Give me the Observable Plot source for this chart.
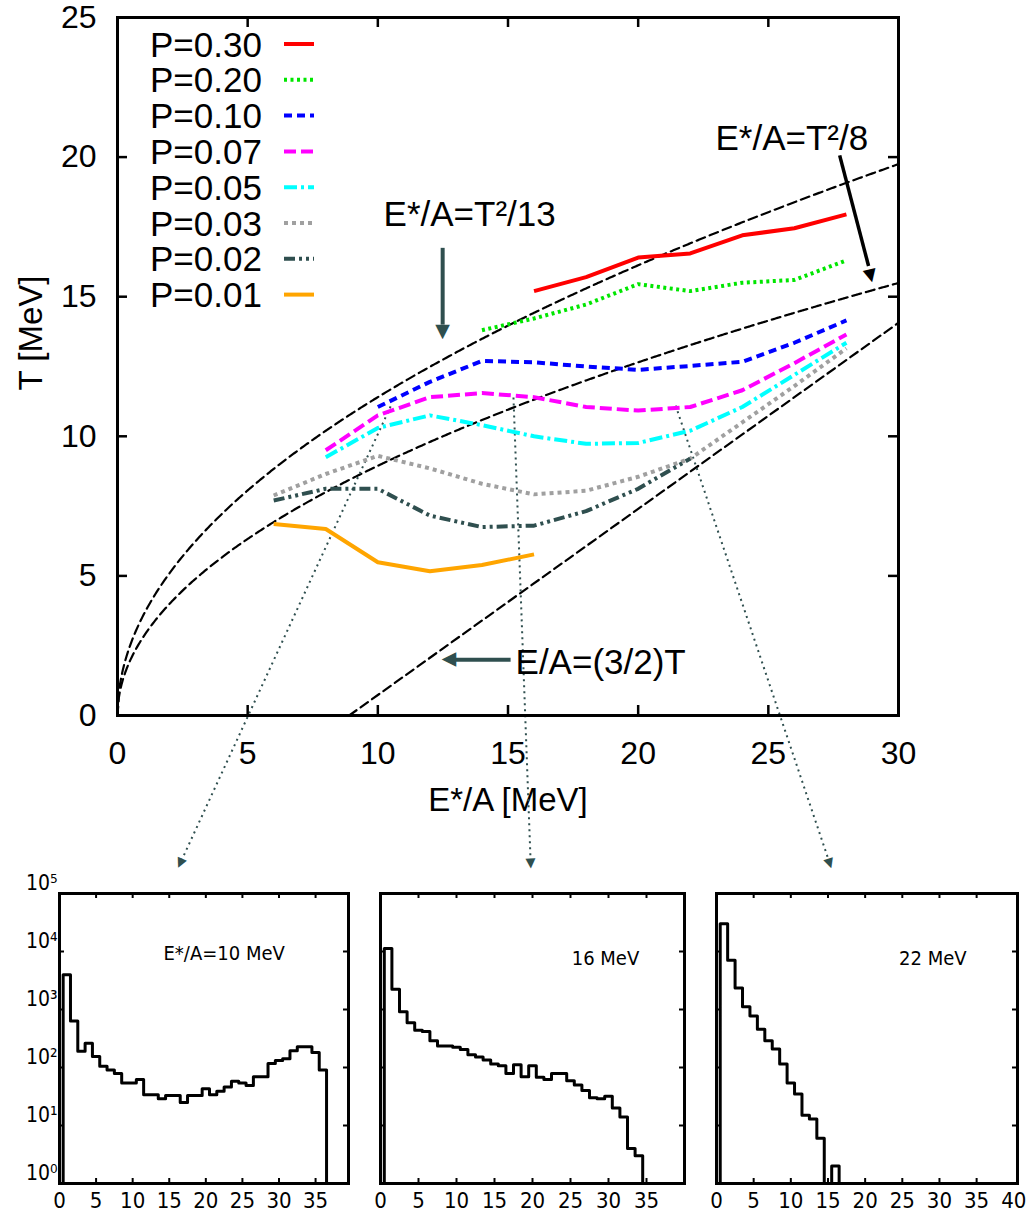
<!DOCTYPE html>
<html><head><meta charset="utf-8">
<script src="https://cdn.jsdelivr.net/npm/d3@7"></script>
<script src="https://cdn.jsdelivr.net/npm/@observablehq/plot@0.6"></script>
<style>
html,body{margin:0;padding:0;background:#fff;}
#wrap{position:relative;width:1028px;height:1225px;overflow:hidden;background:#fff;}
#wrap svg{position:absolute;}
</style></head><body><div id="wrap"></div>
<script>
// ---------------- data: main panel ----------------
const xTicks = [0, 5, 10, 15, 20, 25, 30];
const yTicks = [0, 5, 10, 15, 20, 25];
const pLabels = ["P=0.30", "P=0.20", "P=0.10", "P=0.07", "P=0.05", "P=0.03", "P=0.02", "P=0.01"];
const pColors = ["#ff0000", "#00e600", "#0000ff", "#ff00ff", "#00ffff", "#a0a0a0", "#2f4f4f", "#ffa500"];
const pDash = [null, "3,3.5", "8,5", "12,5", "13,4,3,4", "4,4", "11,4,3,4,3,4", null];

const eP030 = [16, 18, 20, 22, 24, 26, 28];
const tP030 = [15.2, 15.7, 16.4, 16.55, 17.2, 17.45, 17.95];
const eP020 = [14, 16, 18, 20, 22, 24, 26, 28];
const tP020 = [13.8, 14.22, 14.72, 15.45, 15.2, 15.5, 15.6, 16.3];
const eP010 = [10, 12, 14, 16, 18, 20, 22, 24, 26, 28];
const tP010 = [11.05, 11.95, 12.7, 12.65, 12.5, 12.38, 12.52, 12.67, 13.35, 14.15];
const eP007 = [8, 10, 12, 14, 16, 18, 20, 22, 24, 26, 28];
const tP007 = [9.5, 10.75, 11.4, 11.55, 11.4, 11.05, 10.92, 11.05, 11.65, 12.62, 13.65];
const eP005 = [8, 10, 12, 14, 16, 18, 20, 22, 24, 26, 28];
const tP005 = [9.25, 10.3, 10.75, 10.4, 10.0, 9.73, 9.76, 10.2, 11.05, 12.2, 13.35];
const eP003 = [6, 8, 10, 12, 14, 16, 18, 20, 22, 24, 26, 28];
const tP003 = [7.88, 8.65, 9.3, 8.85, 8.3, 7.92, 8.05, 8.55, 9.2, 10.5, 11.8, 13.15];
const eP002 = [6, 8, 10, 12, 14, 16, 18, 20, 22];
const tP002 = [7.7, 8.12, 8.12, 7.16, 6.75, 6.8, 7.32, 8.12, 9.2];
const eP001 = [6, 8, 10, 12, 14, 16];
const tP001 = [6.86, 6.68, 5.49, 5.17, 5.39, 5.77];

const seriesE = [eP030, eP020, eP010, eP007, eP005, eP003, eP002, eP001];
const seriesT = [tP030, tP020, tP010, tP007, tP005, tP003, tP002, tP001];

// reference relations drawn on the chart: E*/A = T^2/a and E/A = (3/2)T (+ offset)
const fermiCoeffs = [13, 8];
const linearOffset = 8.9;

// annotations (data coordinates)
const annotTexts = ["E*/A=T\u00b2/13", "E*/A=T\u00b2/8", "E/A=(3/2)T"];
const annotE = [10.22, 22.97, 15.29];
const annotT = [17.95, 20.67, 1.9];

const arrowShafts = [
  {x1: 12.49, y1: 16.75, x2: 12.49, y2: 14.0, c: "#2f4f4f", w: 4},
  {x1: 27.74, y1: 20.06, x2: 28.85, y2: 16.1, c: "#000000", w: 3.5},
  {x1: 15.1, y1: 2.0, x2: 12.95, y2: 2.0, c: "#2f4f4f", w: 4}
];
const arrowHeads = [
  {x: 12.49, y: 13.78, r: 0, c: "#2f4f4f", s: 19},
  {x: 28.92, y: 15.78, r: -13.5, c: "#000000", s: 17},
  {x: 12.78, y: 2.0, r: 90, c: "#2f4f4f", s: 19}
];
const connectors = [
  {x1: 10.49, y1: 11.07, x2: 2.42, y2: -5.27, r: 24.7},
  {x1: 15.21, y1: 11.39, x2: 15.87, y2: -5.27, r: -2.1},
  {x1: 21.44, y1: 11.10, x2: 27.35, y2: -5.27, r: -18.6}
];

// ---------------- data: histograms (counts per Z, Z = 1..n) ----------------
const histTicks = [0, 5, 10, 15, 20, 25, 30, 35, 40];
const histDecades = [1, 10, 100, 1000, 10000, 100000];
const counts10 = [3980, 631, 191, 263, 155, 105, 91, 79, 54, 54, 62, 34, 34, 29, 33, 33, 25, 33, 33, 43, 34, 39, 46, 58, 54, 49, 69, 69, 117, 132, 141, 195, 229, 229, 182, 91];
const counts16 = [11220, 2239, 912, 589, 437, 417, 288, 234, 234, 224, 204, 166, 151, 135, 115, 107, 79, 112, 69, 107, 68, 62, 79, 79, 59, 50, 40, 30, 29, 32, 20, 14, 4, 3];
const counts22 = [30200, 7080, 2340, 1120, 776, 457, 288, 209, 115, 54, 35, 15, 13, 6, 0, 2];
const histLabels = ["E*/A=10 MeV", "16 MeV", "22 MeV"];

// ---------------- rendering ----------------
const FONT = '"Liberation Sans", Arial, Helvetica, sans-serif';
const NARROW = '"Liberation Sans Narrow", "Arial Narrow", "DejaVu Sans Condensed", sans-serif';
const wrap = document.getElementById("wrap");

const eGrid = d3.range(0, 30.0001, 0.05);
const theory = fermiCoeffs.map(a => eGrid.map(e => ({E: e, T: Math.sqrt(a * e)})));
const linearLine = [linearOffset, 30].map(e => ({E: e, T: (e - linearOffset) / 1.5}));

const seriesMarks = seriesE.map((E, k) => Plot.line(E.map((e, i) => ({E: e, T: seriesT[k][i]})), {
  x: "E", y: "T", stroke: pColors[k], strokeWidth: 4, strokeDasharray: pDash[k] || undefined,
  strokeLinecap: "butt", strokeLinejoin: "round"
}));

const main = Plot.plot({
  width: 1028, height: 880,
  marginLeft: 117, marginRight: 130, marginTop: 17, marginBottom: 165,
  style: {background: "transparent", fontFamily: FONT, color: "black", overflow: "visible"},
  x: {domain: [0, 30], label: null},
  y: {domain: [0, 25], label: null},
  marks: [
    Plot.axisX(xTicks, {tickSize: 0, tickPadding: 26, fontSize: 32, tickFormat: d => String(d)}),
    Plot.axisY(yTicks, {tickSize: 0, tickPadding: 21, fontSize: 32, tickFormat: d => String(d)}),
    Plot.text(["E*/A [MeV]"], {text: d => d, frameAnchor: "bottom", dy: 95, fontSize: 33}),
    Plot.text([{s: "T [MeV]", T: 13.7}], {text: "s", y: "T", frameAnchor: "left", textAnchor: "middle", dx: -86, rotate: -90, fontSize: 33}),
    ...theory.map(t => Plot.line(t, {x: "E", y: "T", stroke: "black", strokeWidth: 2.2, strokeDasharray: "9,5"})),
    Plot.line(linearLine, {x: "E", y: "T", stroke: "black", strokeWidth: 2.2, strokeDasharray: "9,5"}),
    Plot.link(connectors, {x1: "x1", y1: "y1", x2: "x2", y2: "y2", stroke: "#2f4f4f", strokeWidth: 2, strokeDasharray: "2,4"}),
    Plot.text(connectors, {x: "x2", y: "y2", text: () => "\u25BC", rotate: "r", fill: "#2f4f4f", fontSize: 13, fontFamily: "DejaVu Sans"}),
    ...seriesMarks,
    ...arrowShafts.map(a => Plot.link([a], {x1: "x1", y1: "y1", x2: "x2", y2: "y2", stroke: a.c, strokeWidth: a.w})),
    ...arrowHeads.map(a => Plot.text([a], {x: "x", y: "y", text: () => "\u25BC", rotate: a.r, fill: a.c, fontSize: a.s, fontFamily: "DejaVu Sans"})),
    Plot.text(annotTexts.map((t, i) => ({t, E: annotE[i], T: annotT[i]})), {x: "E", y: "T", text: "t", textAnchor: "start", fontSize: 35}),
    Plot.tickX(xTicks, {x: d => d, stroke: "black", strokeWidth: 2.5, insetTop: 688}),
    Plot.tickX(xTicks, {x: d => d, stroke: "black", strokeWidth: 2.5, insetBottom: 688}),
    Plot.tickY(yTicks, {y: d => d, stroke: "black", strokeWidth: 2.5, insetRight: 771}),
    Plot.tickY(yTicks, {y: d => d, stroke: "black", strokeWidth: 2.5, insetLeft: 771}),
    Plot.frame({stroke: "black", strokeWidth: 3})
  ]
});
main.style.left = "0px"; main.style.top = "0px";
wrap.appendChild(main);

// legend (inside the main frame, top-left)
const leg = d3.select(main).append("g").attr("font-family", FONT).attr("font-size", 35).attr("text-anchor", "start");
pLabels.forEach((lab, i) => {
  const yy = 44 + i * 35.8;
  leg.append("text").attr("x", 150).attr("y", yy).attr("dy", "0.36em").attr("fill", "black")
    .attr("text-anchor", "start").text(lab);
  const ln = leg.append("line").attr("x1", 284).attr("x2", 314).attr("y1", yy).attr("y2", yy)
    .attr("stroke", pColors[i]).attr("stroke-width", 4);
  if (pDash[i]) ln.attr("stroke-dasharray", pDash[i]);
});

// histograms
const sup = ["\u2070", "\u00b9", "\u00b2", "\u00b3", "\u2074", "\u2075"];
function histPanel({counts, left, width, marginLeft, marginRight, xmax, labels, showY, label, lx, ly}) {
  const pts = [{x: 0.5, y: 1}];
  counts.forEach((c, i) => pts.push({x: i + 0.5, y: Math.max(c, 1)}));
  pts.push({x: counts.length + 0.5, y: Math.max(counts[counts.length - 1], 1)});
  pts.push({x: counts.length + 0.5, y: 1});
  const fw = width - marginLeft - marginRight;
  const inner = histTicks.filter(t => t > 0 && t < xmax - 0.6);
  const innerDec = histDecades.slice(1, -1);
  const marks = [
    Plot.line(pts, {x: "x", y: "y", curve: "step-after", stroke: "black", strokeWidth: 3}),
    Plot.axisX(labels, {tickSize: 0, tickPadding: 9, fontSize: 22, tickFormat: d => String(d)}),
    Plot.tickX(inner, {x: d => d, stroke: "black", strokeWidth: 2, insetTop: 285}),
    Plot.tickX(inner, {x: d => d, stroke: "black", strokeWidth: 2, insetBottom: 285}),
    Plot.tickY(innerDec, {y: d => d, stroke: "black", strokeWidth: 2, insetRight: fw - 5}),
    Plot.tickY(innerDec, {y: d => d, stroke: "black", strokeWidth: 2, insetLeft: fw - 5}),
    Plot.text([label], {text: d => d, x: lx, y: ly, fontSize: 20}),
    Plot.frame({stroke: "black", strokeWidth: 3})
  ];
  if (showY) marks.push(Plot.axisY(histDecades, {tickSize: 0, tickPadding: 2, dy: -10, fontSize: 21,
    tickFormat: d => "10" + sup[Math.round(Math.log10(d))]}));
  const svg = Plot.plot({
    width, height: 345, marginLeft, marginRight, marginTop: 13, marginBottom: 42,
    style: {background: "transparent", fontFamily: NARROW, color: "black", overflow: "visible"},
    x: {domain: [0, xmax], label: null},
    y: {type: "log", domain: [1, 1e5], label: null, axis: showY ? undefined : null},
    marks
  });
  svg.style.left = left + "px"; svg.style.top = "880px";
  wrap.appendChild(svg);
}
histPanel({counts: counts10, left: 0, width: 360, marginLeft: 59, marginRight: 12, xmax: 39.5,
  labels: [0, 5, 10, 15, 20, 25, 30, 35], showY: true, label: histLabels[0], lx: 22.5, ly: 9300});
histPanel({counts: counts16, left: 360, width: 340, marginLeft: 20, marginRight: 16, xmax: 40,
  labels: [0, 5, 10, 15, 20, 25, 30, 35], showY: false, label: histLabels[1], lx: 29.6, ly: 7400});
histPanel({counts: counts22, left: 700, width: 328, marginLeft: 16, marginRight: 11, xmax: 40.5,
  labels: [0, 5, 10, 15, 20, 25, 30, 35, 40], showY: false, label: histLabels[2], lx: 29.1, ly: 7400});
</script></body></html>
